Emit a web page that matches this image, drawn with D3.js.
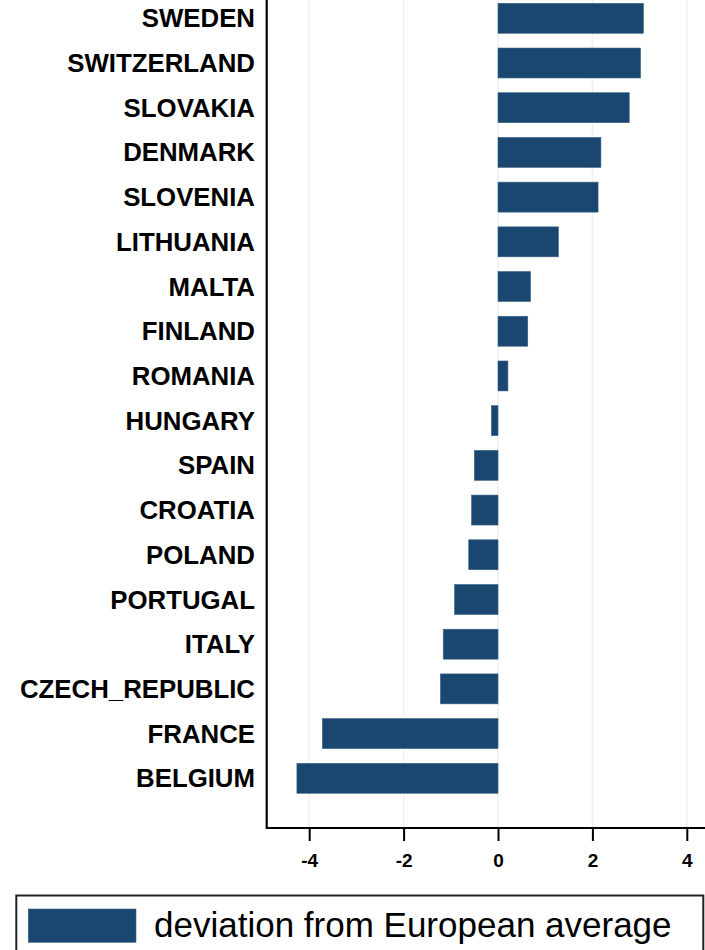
<!DOCTYPE html>
<html>
<head>
<meta charset="utf-8">
<script src="https://cdn.jsdelivr.net/npm/d3@7"></script>
<style>
    body { margin: 0; background: #fff; }
    svg { display: block; font-family: "Liberation Sans", Arial, sans-serif; }
</style>
</head>
<body>
<svg id="chart" width="705" height="950"></svg>
<script>
/* hbar: deviation from European average by country */
const countries = ['SWEDEN', 'SWITZERLAND', 'SLOVAKIA', 'DENMARK', 'SLOVENIA', 'LITHUANIA', 'MALTA', 'FINLAND',
    'ROMANIA', 'HUNGARY', 'SPAIN', 'CROATIA', 'POLAND', 'PORTUGAL', 'ITALY', 'CZECH_REPUBLIC', 'FRANCE', 'BELGIUM'];
const deviation = [3.08, 3.02, 2.78, 2.18, 2.12, 1.28, 0.69, 0.63, 0.21, -0.14, -0.50, -0.56, -0.62, -0.92, -1.16, -1.22, -3.72, -4.26];
const xTicks = [-4, -2, 0, 2, 4];
const legendLabel = 'deviation from European average';

const barColor = '#1a476f';
const gridColor = '#eaf2f3';

const svg = d3.select('#chart');
const left = 266.7, bottom = 828;

const x = d3.scaleLinear().domain([-4.9, 4.9]).range([left, 729.3]);
const y = d3.scaleBand().domain(countries).range([-4.05, 800.65]).paddingInner(0.33).paddingOuter(0.165);

// grid
svg.append('g').selectAll('line').data(xTicks).enter().append('line')
    .attr('x1', d => x(d)).attr('x2', d => x(d))
    .attr('y1', 0).attr('y2', bottom)
    .style('stroke', gridColor).style('stroke-width', 1.5);

// bars
svg.append('g').selectAll('rect').data(countries).enter().append('rect')
    .attr('x', (d, i) => x(Math.min(0, deviation[i])))
    .attr('width', (d, i) => Math.abs(x(deviation[i]) - x(0)))
    .attr('y', d => y(d))
    .attr('height', y.bandwidth())
    .style('fill', barColor)
    .style('stroke', '#3a6386').style('stroke-width', 0.6);

// category labels
svg.append('g').selectAll('text').data(countries).enter().append('text')
    .attr('x', 255)
    .attr('y', d => y(d) + y.bandwidth() / 2)
    .attr('dy', '0.35em')
    .attr('text-anchor', 'end')
    .style('font-size', '25.8px').style('font-weight', 'bold').style('fill', '#000')
    .text(d => d);

// x axis
const xAxis = svg.append('g').attr('transform', `translate(0,${bottom})`)
    .call(d3.axisBottom(x).tickValues(xTicks).tickSize(13).tickSizeOuter(0).tickPadding(13).tickFormat(d => d < 0 ? '-' + Math.abs(d) : d));
xAxis.select('.domain').remove();
xAxis.selectAll('.tick line').style('stroke', '#000').style('stroke-width', 2);
xAxis.selectAll('.tick text').style('font-size', '19px').style('font-weight', 'bold').style('fill', '#000')
    .style('font-family', '"Liberation Sans", Arial, sans-serif');

// axis lines
svg.append('line').attr('x1', left).attr('x2', 705).attr('y1', bottom).attr('y2', bottom)
    .style('stroke', '#000').style('stroke-width', 2.2);
svg.append('line').attr('x1', left).attr('x2', left).attr('y1', 0).attr('y2', bottom + 1.1)
    .style('stroke', '#000').style('stroke-width', 2.2);

// legend
const lg = svg.append('g');
lg.append('rect').attr('x', 16.3).attr('y', 895.5).attr('width', 687).attr('height', 80)
    .style('fill', '#fff').style('stroke', '#222').style('stroke-width', 2);
lg.append('rect').attr('x', 28.3).attr('y', 909).attr('width', 107.7).attr('height', 33.3)
    .style('fill', barColor).style('stroke', '#3a6386').style('stroke-width', 0.6);
lg.append('text').attr('x', 154).attr('y', 937)
    .style('font-size', '35px').style('fill', '#000')
    .text(legendLabel);
</script>
</body>
</html>
